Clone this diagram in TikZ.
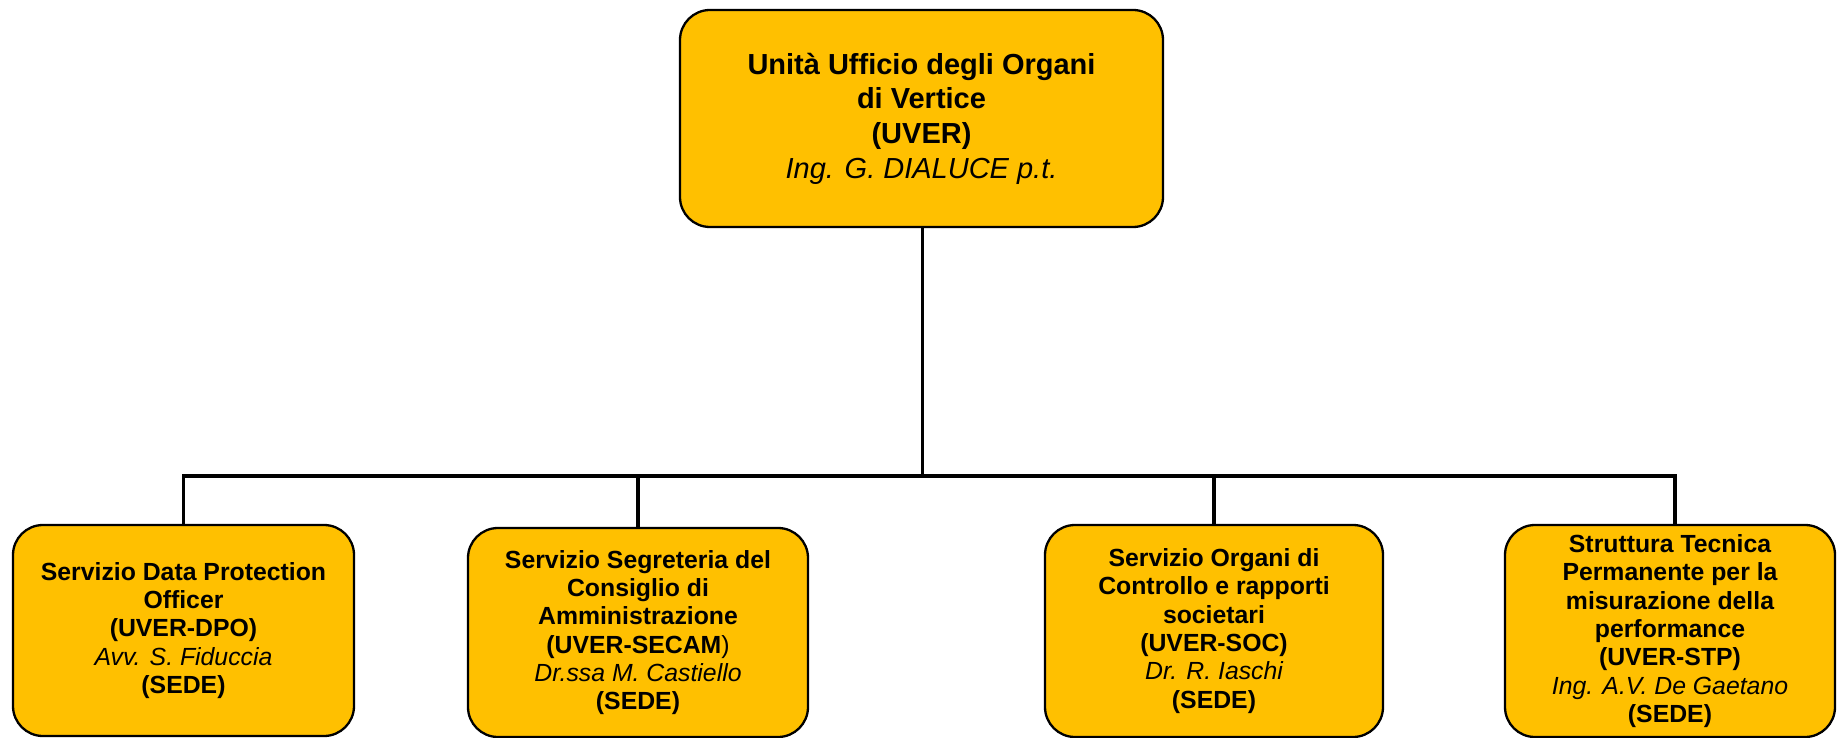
\documentclass[tikz,border=0pt]{standalone}
\usepackage{fontspec}
\setmainfont{Liberation Sans}
\definecolor{gold}{HTML}{FFC000}
\begin{document}
\begin{tikzpicture}[x=1pt,y=-1pt,
  box/.style={draw=black, line width=2.3pt, fill=gold, rounded corners=30pt, align=center, inner sep=0pt},
  topfont/.style={font=\fontsize{29}{34.7}\selectfont\bfseries},
  subfont/.style={font=\fontsize{24.8}{28.3}\selectfont\bfseries},
  conn/.style={line width=3.2pt, line join=miter}]
\useasboundingbox (0,0) rectangle (1837,738);
\node[box, topfont, minimum width=483pt, minimum height=217pt] (top) at (921.5,118.5)
  {Unità Ufficio degli Organi\\di Vertice\\(UVER)\\{\mdseries\itshape Ing. G. DIALUCE p.t.}};
\node[box, subfont, minimum width=341pt, minimum height=211pt] (b1) at (183.5,630.5)
  {Servizio Data Protection\\Officer\\(UVER-DPO)\\{\mdseries\itshape Avv. S. Fiduccia}\\(SEDE)};
\node[box, subfont, minimum width=340pt, minimum height=209pt] (b2) at (638,632.5)
  {Servizio Segreteria del\\Consiglio di\\Amministrazione\\(UVER-SECAM{\mdseries )}\\{\mdseries\itshape Dr.ssa M. Castiello}\\(SEDE)};
\node[box, subfont, minimum width=338pt, minimum height=212pt] (b3) at (1214,631)
  {Servizio Organi di\\Controllo e rapporti\\societari\\(UVER-SOC)\\{\mdseries\itshape Dr. R. Iaschi}\\(SEDE)};
\node[box, subfont, minimum width=330pt, minimum height=212pt] (b4) at (1670,631)
  {Struttura Tecnica\\Permanente per la\\misurazione della\\performance\\(UVER-STP)\\{\mdseries\itshape Ing. A.V. De Gaetano}\\(SEDE)};
\coordinate (bar) at (922.5,476);
\coordinate (b4top) at ([xshift=5pt]b4.north);
\draw[conn] (top.south -| bar) -- (bar);
\draw[conn] (b1.north) |- (bar) -| (b4top);
\draw[conn] (b2.north) -- (b2.north |- bar);
\draw[conn] (b3.north) -- (b3.north |- bar);
\end{tikzpicture}
\end{document}
